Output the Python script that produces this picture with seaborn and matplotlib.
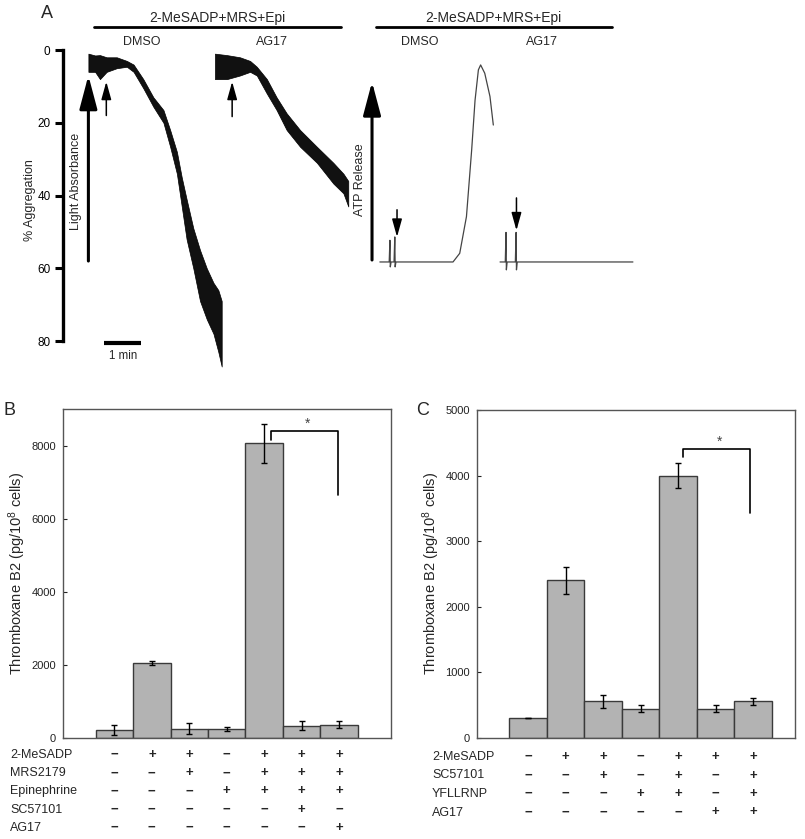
import matplotlib
matplotlib.use('Agg')
import matplotlib.pyplot as plt
from matplotlib.lines import Line2D
from matplotlib.transforms import blended_transform_factory
import seaborn as sns
import pandas as pd

sns.set_theme(style='white')
plt.rcParams['font.family'] = ['Liberation Sans', 'DejaVu Sans']
plt.rcParams['mathtext.fontset'] = 'custom'
plt.rcParams['mathtext.rm'] = 'Liberation Sans'
plt.rcParams['mathtext.default'] = 'regular'

# ---- panel A, aggregation traces (time in min, % aggregation; upper / lower edge of the noisy trace)
dmso_t = [0, 0.18, 0.31, 0.49, 0.76, 1.03, 1.21, 1.47, 1.74, 2.01, 2.19, 2.37, 2.50, 2.63, 2.81, 2.99, 3.17, 3.35, 3.48, 3.57]
dmso_hi = [1, 1.5, 1.4, 2, 2, 3, 4, 8, 13, 16.5, 22, 28, 35, 41, 49, 55, 60, 64, 66, 69]
dmso_lo = [6, 6, 8, 6, 5, 4.6, 6, 10.5, 15.6, 20, 26.6, 34, 43, 52, 60, 69, 74, 78, 83, 87]

ag_t = [3.39, 3.71, 4.06, 4.33, 4.51, 4.78, 5.04, 5.31, 5.67, 6.12, 6.56, 6.83, 6.96]
ag_hi = [1, 1.4, 2, 3, 4.6, 8, 13, 17.4, 22, 26.6, 31, 34, 36]
ag_lo = [8, 8, 7, 6, 7, 12, 16.5, 22, 26.6, 31, 36.7, 39.4, 43]

# ATP release traces (time in min, signal in % of peak)
atp_dmso_t = [0, 0.25, 0.27, 0.28, 0.30, 0.38, 0.40, 0.41, 0.43, 1.96, 2.14, 2.32, 2.46, 2.55, 2.64, 2.70, 2.81, 2.95, 3.04]
atp_dmso_s = [0, 0, 11, -2.5, 0, 0, 12.7, -2.5, 0, 0, 4.4, 23, 56.9, 82, 97.5, 100, 95.8, 84, 69.5]
atp_ag_t = [3.22, 3.36, 3.38, 3.39, 3.41, 3.63, 3.65, 3.66, 3.68, 6.78]
atp_ag_s = [0, 0, 15, -4, 0, 0, 15, -4, 0, 0]

# ---- panel B
b_factors = ['2-MeSADP', 'MRS2179', 'Epinephrine', 'SC57101', 'AG17']
b_signs = ['-++-+++', '--+-+++', '---++++', '-----+-', '------+']
b_values = [200, 2050, 250, 250, 8070, 330, 355]
b_errors = [135, 50, 150, 55, 540, 125, 90]

# ---- panel C
c_factors = ['2-MeSADP', 'SC57101', 'YFLLRNP', 'AG17']
c_signs = ['-++-+++', '--+-+-+', '---++-+', '-----++']
c_values = [305, 2400, 555, 445, 4000, 445, 555]
c_errors = [0, 200, 100, 55, 195, 55, 50]

W, H = 805, 839
fig = plt.figure(figsize=(W / 100, H / 100), dpi=100)


def fx(x):
    return x / W


def fy(y):
    return 1 - y / H


def box(left, top, right, bottom):
    return [fx(left), fy(bottom), (right - left) / W, (bottom - top) / H]


# ================= Panel A: aggregation =================
axa = fig.add_axes(box(63, 20, 355, 380))
axa.set_facecolor('none')
axa.fill_between(dmso_t, dmso_hi, dmso_lo, color='#111111', lw=0.5, edgecolor='black')
axa.fill_between(ag_t, ag_hi, ag_lo, color='#111111', lw=0.5, edgecolor='black')
axa.set_xlim(-0.68, 7.14)
axa.set_ylim(90.7, -8.25)
for s in ['top', 'right', 'bottom']:
    axa.spines[s].set_visible(False)
axa.spines['left'].set_bounds(0, 80)
axa.spines['left'].set_linewidth(2.4)
axa.spines['left'].set_color('black')
axa.set_xticks([])
axa.set_yticks([0, 20, 40, 60, 80])
axa.tick_params(axis='y', left=True, length=6, width=2.2, direction='out', pad=3, labelsize=8.5, colors='black')
axa.set_ylabel('% Aggregation', fontsize=9, labelpad=1)

big = dict(arrowstyle='-|>,head_length=1.7,head_width=0.45', lw=2.2, color='black', shrinkA=0, shrinkB=0)
small = dict(arrowstyle='-|>,head_length=0.9,head_width=0.25', lw=1.1, color='black', shrinkA=0, shrinkB=0)
axa.annotate('', xy=(0, 7), xytext=(0, 58), arrowprops=big, annotation_clip=False)
axa.annotate('', xy=(0.48, 8.7), xytext=(0.48, 18), arrowprops=small)
axa.annotate('', xy=(3.85, 8.7), xytext=(3.85, 18.3), arrowprops=small)
axa.text(-0.33, 36, 'Light Absorbance', rotation=90, ha='center', va='center', fontsize=9)
axa.plot([0.42, 1.42], [80.5, 80.5], color='black', lw=3, solid_capstyle='butt')
axa.text(0.92, 84, '1 min', ha='center', va='center', fontsize=8.3)

# ================= Panel A: ATP release =================
axt = fig.add_axes(box(350, 20, 640, 300))
axt.set_axis_off()
axt.plot(atp_dmso_t, atp_dmso_s, color='#444444', lw=0.9)
axt.plot(atp_ag_t, atp_ag_s, color='#444444', lw=0.9)
axt.set_xlim(-0.80, 6.97)
axt.set_ylim(-19.3, 122.8)
axt.annotate('', xy=(-0.21, 91.4), xytext=(-0.21, 1), arrowprops=big, annotation_clip=False)
axt.annotate('', xy=(0.46, 12.7), xytext=(0.46, 26.5), arrowprops=small)
axt.annotate('', xy=(3.66, 16), xytext=(3.66, 32.5), arrowprops=small)
axt.text(-0.54, 41.6, 'ATP Release', rotation=90, ha='center', va='center', fontsize=9)

# headers of panel A
for x0, x1, xm, xd, xa in [(94, 341, 217, 142, 272), (376, 612, 493, 420, 542)]:
    fig.add_artist(Line2D([fx(x0), fx(x1)], [fy(27), fy(27)], color='black', lw=2))
    fig.text(fx(xm), fy(18), '2-MeSADP+MRS+Epi', ha='center', va='center', fontsize=10)
    fig.text(fx(xd), fy(42), 'DMSO', ha='center', va='center', fontsize=9)
    fig.text(fx(xa), fy(42), 'AG17', ha='center', va='center', fontsize=9)


# ================= Panels B and C =================
def bar_panel(ax, values, errors, factors, signs, ylim, yticks, xlim, bracket, star, label_x, row_y0, row_dy):
    conds = [''.join(row[i] for row in signs) for i in range(len(values))]
    df = pd.DataFrame({'cond': conds, 'value': values})
    sns.barplot(data=df, x='cond', y='value', order=conds, width=1.0, color='#b3b3b3',
                saturation=1, edgecolor='#3a3a3a', linewidth=1, ax=ax)
    ax.errorbar(range(len(values)), values, yerr=errors, fmt='none', ecolor='black',
                elinewidth=1, capsize=2, capthick=1)
    ax.set_xlim(*xlim)
    ax.set_ylim(*ylim)
    ax.set_yticks(yticks)
    ax.set_xticks([])
    ax.set_xlabel('')
    ax.set_ylabel(r'Thromboxane B2 (pg/10$^{8}$ cells)', fontsize=10.5, labelpad=2)
    ax.tick_params(axis='y', left=True, length=3, width=0.8, direction='in', pad=5, labelsize=8, colors='#222222')
    for s in ax.spines.values():
        s.set_color('#555555')
        s.set_linewidth(1)
    bx0, bx1, by0, by1, by2 = bracket
    ax.plot([bx0, bx0, bx1, bx1], [by0, by1, by1, by2], color='black', lw=1.2)
    ax.text(star[0], star[1], '*', ha='center', va='center', fontsize=10, color='#444444')
    tr = blended_transform_factory(ax.transData, fig.transFigure)
    for r, (name, row) in enumerate(zip(factors, signs)):
        yy = fy(row_y0 + r * row_dy)
        fig.text(fx(label_x), yy, name, ha='left', va='center', fontsize=9)
        for i, s in enumerate(row):
            sym = '+' if s == '+' else '\u2212'
            ax.text(i, yy, sym, transform=tr, ha='center', va='center', fontsize=9.5, fontweight='bold')


axb = fig.add_axes(box(62.7, 409.3, 390.7, 737.7))
bar_panel(axb, b_values, b_errors, b_factors, b_signs, (0, 9000), [0, 2000, 4000, 6000, 8000],
          (-1.38, 7.38), (4.17, 5.96, 8164, 8411, 6656), (5.15, 8600), 10, 755, 18.2)

axc = fig.add_axes(box(476.7, 410, 795, 737.7))
bar_panel(axc, c_values, c_errors, c_factors, c_signs, (0, 5000), [0, 1000, 2000, 3000, 4000, 5000],
          (-1.37, 7.12), (4.13, 5.91, 4278, 4400, 3423), (5.1, 4520), 432, 757, 18.5)

# panel letters
fig.text(fx(47), fy(13), 'A', ha='center', va='center', fontsize=13)
fig.text(fx(9), fy(411), 'B', ha='center', va='center', fontsize=13)
fig.text(fx(423), fy(411), 'C', ha='center', va='center', fontsize=13)

fig.savefig('out.png', dpi=100)
